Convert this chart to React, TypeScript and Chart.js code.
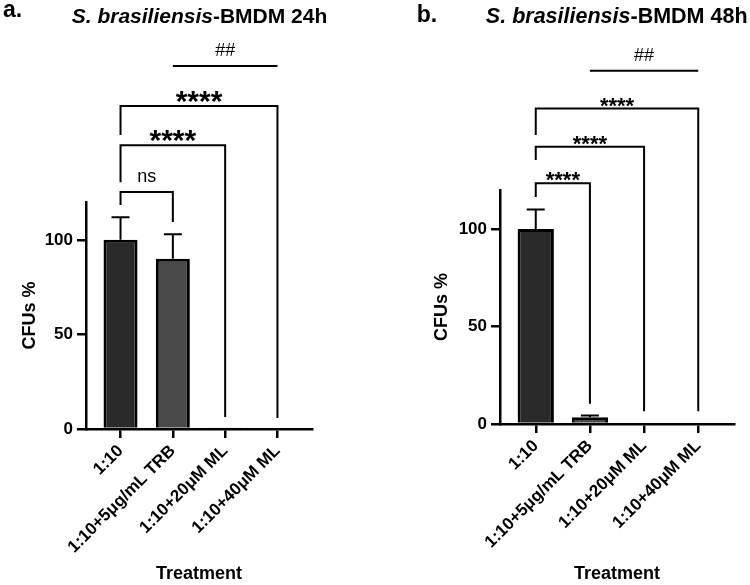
import React, { useEffect, useRef } from "react";
import { Chart, registerables } from "chart.js";

Chart.register(...registerables);

const FONT = "'Liberation Sans', Arial, Helvetica, sans-serif";

const categories = ["1:10", "1:10+5μg/mL TRB", "1:10+20μM ML", "1:10+40μM ML"];
const yTicks = [0, 50, 100];
const yMax = 120;

const cfu24h = [100, 90, 0.5, 0];
const err24h = [12, 13, 0, 0];
const cfu48h = [100, 3.4, 0, 0];
const err48h = [10, 0.9, 0, 0];

// significance comparisons: group indices, bracket level and leg ends (CFUs % units)
const sig24Text = ["ns", "****", "****", "##"];
const sig24From = [0, 0, 0, 1];
const sig24To = [1, 2, 3, 3];
const sig24Level = [125.3, 150, 170.7, 191.9];
const sig24LeftEnd = [118.4, 130.5, 155.4, NaN];
const sig24RightEnd = [109.4, 6.3, 5.8, NaN];

const sig48Text = ["****", "****", "****", "##"];
const sig48From = [0, 0, 0, 1];
const sig48To = [1, 2, 3, 3];
const sig48Level = [123.4, 142.2, 161.8, 181.1];
const sig48LeftEnd = [116.4, 135.4, 148.2, NaN];
const sig48RightEnd = [10.4, 6.5, 6.5, NaN];

const barColors = ["#2a2a2a", "#4a4a4a", "#555555", "#555555"];

type PanelSpec = {
  letter: string;
  italic: string;
  rest: string;
  values: number[];
  errors: number[];
  sigText: string[];
  sigFrom: number[];
  sigTo: number[];
  sigLevel: number[];
  sigLeftEnd: number[];
  sigRightEnd: number[];
  left: number;
  pad: { left: number; right: number; top: number; bottom: number };
  yWidth: number;
  xHeight: number;
  titleX: number;
  titleBase: number;
  titleSize: number;
  letterX: number;
  letterBase: number;
  starSize: number;
  starLift: number;
  barPct: number;
};

const panels: PanelSpec[] = [
  {
    letter: "a.",
    italic: "S. brasiliensis",
    rest: "-BMDM 24h",
    values: cfu24h,
    errors: err24h,
    sigText: sig24Text,
    sigFrom: sig24From,
    sigTo: sig24To,
    sigLevel: sig24Level,
    sigLeftEnd: sig24LeftEnd,
    sigRightEnd: sig24RightEnd,
    left: 0,
    pad: { left: 15, right: 63, top: 202, bottom: 0 },
    yWidth: 71,
    xHeight: 156,
    titleX: 199.5,
    titleBase: 22.5,
    titleSize: 21,
    letterX: 3,
    letterBase: 16.7,
    starSize: 30,
    starLift: 14,
    barPct: 0.65,
  },
  {
    letter: "b.",
    italic: "S. brasiliensis",
    rest: "-BMDM 48h",
    values: cfu48h,
    errors: err48h,
    sigText: sig48Text,
    sigFrom: sig48From,
    sigTo: sig48To,
    sigLevel: sig48Level,
    sigLeftEnd: sig48LeftEnd,
    sigRightEnd: sig48RightEnd,
    left: 375,
    pad: { left: 52, right: 16, top: 190, bottom: 0 },
    yWidth: 73,
    xHeight: 161,
    titleX: 241.7,
    titleBase: 23,
    titleSize: 21.5,
    letterX: 41.7,
    letterBase: 21.7,
    starSize: 22,
    starLift: 10,
    barPct: 0.67,
  },
];

function buildChart(canvas: HTMLCanvasElement, p: PanelSpec) {
  const axisGrid = {
    offset: false,
    drawOnChartArea: false,
    drawTicks: true,
    tickLength: 9,
    lineWidth: 2.5,
    tickWidth: 2.5,
    tickColor: "#000",
    color: "#000",
  };
  const axisBorder = { display: true, color: "#000", width: 2.5 };

  const decorations = {
    id: "decorations",
    afterDatasetsDraw(chart: any) {
      const ctx = chart.ctx;
      const ys = chart.scales.y;
      const meta = chart.getDatasetMeta(0);
      ctx.save();
      ctx.strokeStyle = "#000";
      ctx.lineWidth = 2;
      p.values.forEach((v, i) => {
        const e = p.errors[i];
        if (!e) return;
        const x = meta.data[i].x;
        const y0 = ys.getPixelForValue(v);
        const y1 = ys.getPixelForValue(v + e);
        ctx.beginPath();
        ctx.moveTo(x, y0);
        ctx.lineTo(x, y1);
        ctx.moveTo(x - 9, y1);
        ctx.lineTo(x + 9, y1);
        ctx.stroke();
      });
      ctx.restore();
    },
    afterDraw(chart: any) {
      const ctx = chart.ctx;
      const xs = chart.scales.x;
      const ys = chart.scales.y;
      ctx.save();
      ctx.fillStyle = "#000";
      ctx.strokeStyle = "#000";
      ctx.textBaseline = "alphabetic";
      // panel letter + title
      ctx.textAlign = "left";
      ctx.font = `bold 23px ${FONT}`;
      ctx.fillText(p.letter, p.letterX, p.letterBase);
      const fI = `italic bold ${p.titleSize}px ${FONT}`;
      const fB = `bold ${p.titleSize}px ${FONT}`;
      ctx.font = fI;
      const w1 = ctx.measureText(p.italic).width;
      ctx.font = fB;
      const w2 = ctx.measureText(p.rest).width;
      const x0 = p.titleX - (w1 + w2) / 2;
      ctx.font = fI;
      ctx.fillText(p.italic, x0, p.titleBase);
      ctx.font = fB;
      ctx.fillText(p.rest, x0 + w1, p.titleBase);

      // significance brackets
      ctx.lineWidth = 2;
      ctx.textAlign = "center";
      p.sigText.forEach((txt, k) => {
        const xl = xs.getPixelForValue(p.sigFrom[k]);
        const xr = xs.getPixelForValue(p.sigTo[k]);
        const yl = ys.getPixelForValue(p.sigLevel[k]);
        ctx.beginPath();
        if (isNaN(p.sigLeftEnd[k])) {
          ctx.moveTo(xl, yl);
        } else {
          ctx.moveTo(xl, ys.getPixelForValue(p.sigLeftEnd[k]));
          ctx.lineTo(xl, yl);
        }
        if (isNaN(p.sigRightEnd[k])) {
          ctx.lineTo(xr, yl);
        } else {
          ctx.lineTo(xr, yl);
          ctx.lineTo(xr, ys.getPixelForValue(p.sigRightEnd[k]));
        }
        ctx.stroke();
        const cx = (xl + xr) / 2;
        let size: number, lift: number, base: number;
        if (txt.startsWith("*")) {
          size = p.starSize;
          lift = p.starLift;
          ctx.font = `bold ${size}px ${FONT}`;
          base = yl - lift + 0.64 * size;
        } else if (txt.startsWith("#")) {
          size = 18;
          lift = 16.7;
          ctx.font = `${size}px ${FONT}`;
          base = yl - lift + 0.36 * size;
        } else {
          size = 18;
          lift = 15;
          ctx.font = `${size}px ${FONT}`;
          base = yl - lift + 0.27 * size;
        }
        ctx.fillText(txt, cx, base);
      });
      ctx.restore();
    },
  };

  return new Chart(canvas, {
    type: "bar",
    data: {
      datasets: [
        {
          data: p.values.map((v, i) => ({ x: i, y: v })),
          backgroundColor: barColors,
          borderColor: "#000",
          borderWidth: 3,
          borderSkipped: "start",
          barPercentage: p.barPct,
          categoryPercentage: 1,
        },
      ],
    },
    options: {
      animation: false,
      responsive: false,
      devicePixelRatio: 1,
      layout: { padding: p.pad },
      plugins: {
        legend: { display: false },
        tooltip: { enabled: false },
        title: { display: false },
      },
      scales: {
        x: {
          type: "linear",
          min: -0.66,
          max: 3.66,
          offset: false,
          afterBuildTicks: (s: any) => {
            s.ticks = categories.map((_, i) => ({ value: i }));
          },
          afterFit: (s: any) => {
            s.height = p.xHeight;
          },
          grid: axisGrid,
          border: axisBorder,
          ticks: {
            autoSkip: false,
            maxRotation: 45,
            minRotation: 45,
            color: "#000",
            padding: 3,
            font: { family: FONT, size: 17, weight: "bold" },
            callback: (v: any) => categories[v] ?? "",
          },
          title: {
            display: true,
            text: "Treatment",
            color: "#000",
            font: { family: FONT, size: 18, weight: "bold" },
            padding: { top: 0, bottom: 0 },
          },
        },
        y: {
          min: 0,
          max: yMax,
          afterBuildTicks: (s: any) => {
            s.ticks = yTicks.map((v) => ({ value: v }));
          },
          afterFit: (s: any) => {
            s.width = p.yWidth;
          },
          grid: axisGrid,
          border: axisBorder,
          ticks: {
            color: "#000",
            padding: 4,
            font: { family: FONT, size: 17, weight: "bold" },
          },
          title: {
            display: true,
            text: "CFUs %",
            color: "#000",
            font: { family: FONT, size: 18, weight: "bold" },
            padding: { top: 4, bottom: 4 },
          },
        },
      },
    } as any,
    plugins: [decorations],
  });
}

function Panel({ spec }: { spec: PanelSpec }) {
  const ref = useRef<HTMLCanvasElement | null>(null);
  useEffect(() => {
    if (!ref.current) return;
    const chart = buildChart(ref.current, spec);
    return () => chart.destroy();
  }, [spec]);
  return (
    <canvas
      ref={ref}
      width={375}
      height={585}
      style={{ position: "absolute", left: spec.left, top: 0, width: 375, height: 585 }}
    />
  );
}

export default function App() {
  return (
    <div
      style={{
        position: "absolute",
        left: 0,
        top: 0,
        width: 750,
        height: 585,
        background: "#fff",
        overflow: "hidden",
      }}
    >
      {panels.map((p) => (
        <Panel key={p.letter} spec={p} />
      ))}
    </div>
  );
}
